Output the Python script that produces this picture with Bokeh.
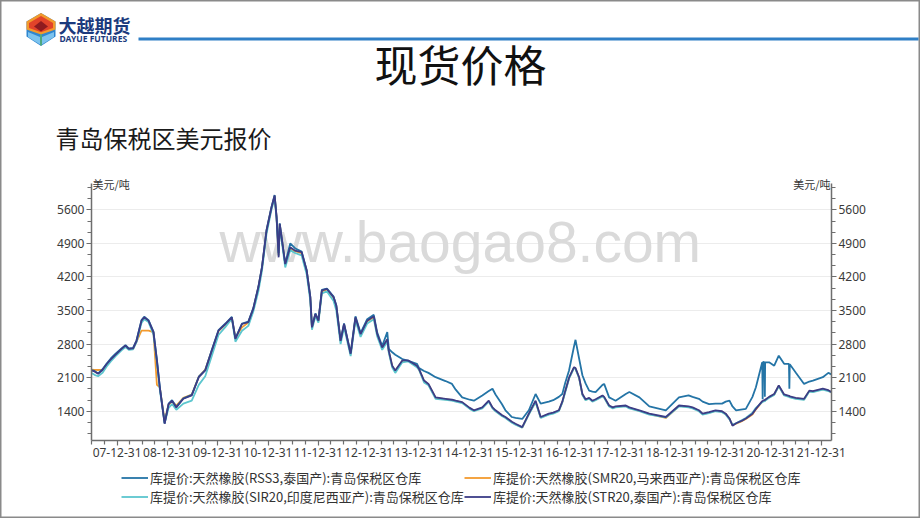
import numpy as np
import pandas as pd
from bokeh.plotting import figure
from bokeh.models import (Range1d, FixedTicker, DatetimeTickFormatter, LinearAxis,
                          Label, Legend, LegendItem, ColumnDataSource)
from bokeh.embed import file_html
from bokeh.resources import INLINE
from bokeh.core.properties import value

# ---------------- data ----------------
dates = [
    "2007-06-28", "2007-07-20", "2007-08-15", "2007-09-15", "2007-10-15", "2007-11-15", "2007-12-20",
    "2008-02-01", "2008-03-01", "2008-03-25", "2008-04-25", "2008-05-20", "2008-06-25", "2008-07-15",
    "2008-08-15", "2008-09-20", "2008-10-15", "2008-11-05", "2008-12-10",
    "2009-01-08", "2009-02-02", "2009-03-05", "2009-04-25", "2009-06-25", "2009-08-15", "2009-10-01", "2009-11-18",
    "2010-01-05", "2010-02-25", "2010-04-12", "2010-05-08", "2010-06-25", "2010-08-10", "2010-09-15",
    "2010-10-22", "2010-11-17", "2010-12-20",
    "2011-01-25", "2011-02-17", "2011-03-03", "2011-03-18", "2011-03-26", "2011-05-05", "2011-06-10",
    "2011-07-15", "2011-09-01", "2011-10-08", "2011-11-03", "2011-11-15", "2011-12-10",
    "2012-01-01", "2012-01-26", "2012-03-03", "2012-04-20", "2012-05-10", "2012-06-10", "2012-07-05",
    "2012-08-22", "2012-09-26", "2012-11-02", "2012-12-20",
    "2013-02-06", "2013-03-03", "2013-04-08", "2013-05-15", "2013-05-26", "2013-06-20", "2013-07-12",
    "2013-09-01", "2013-10-15", "2013-12-16",
    "2014-01-01", "2014-02-06", "2014-03-10", "2014-05-01", "2014-07-12", "2014-08-28", "2014-09-24", "2014-11-10",
    "2015-01-04", "2015-02-03", "2015-04-05", "2015-05-22", "2015-06-18", "2015-07-10", "2015-08-25",
    "2015-09-20", "2015-11-06", "2015-12-02",
    "2016-01-20", "2016-03-08", "2016-04-26", "2016-06-02", "2016-07-31", "2016-09-01", "2016-10-12",
    "2016-11-06", "2016-11-28", "2016-12-25",
    "2017-01-30", "2017-02-10", "2017-03-08", "2017-04-01", "2017-04-24", "2017-05-20", "2017-06-13",
    "2017-07-06", "2017-08-25", "2017-09-06", "2017-10-12", "2017-11-08", "2017-11-28",
    "2018-02-10", "2018-03-08", "2018-05-20", "2018-07-31", "2018-11-28",
    "2019-03-03", "2019-05-12", "2019-06-10", "2019-07-26", "2019-08-22", "2019-10-08", "2019-11-24",
    "2020-01-10", "2020-02-06", "2020-03-04", "2020-03-26", "2020-04-21", "2020-06-07", "2020-07-01",
    "2020-08-18", "2020-09-12", "2020-10-28", "2020-10-31", "2020-11-03", "2020-11-14", "2020-11-16",
    "2020-11-18", "2020-12-17",
    "2021-01-23", "2021-02-25", "2021-04-05", "2021-05-10", "2021-05-13", "2021-05-16", "2021-06-28",
    "2021-08-28", "2021-10-05", "2021-10-31",
    "2022-01-11", "2022-02-20", "2022-03-14",
]

rss3 = [
    2260, 2240, 2190, 2270, 2390, 2500, 2600,
    2710, 2780, 2710, 2720, 2880, 3300, 3370, 3300, 3060, 2470, 1910, 1150,
    1560, 1630, 1490, 1670, 1740, 2120, 2260, 2680,
    3090, 3230, 3370, 2920, 3230, 3270, 3550, 4000, 4410, 5180,
    5660, 5910, 5460, 4700, 5320, 4480, 4900, 4800, 4730, 4340, 3790, 3160, 3440,
    3300, 3930, 3960, 3790, 3610, 2880, 3230, 2610, 3380, 3030, 3320,
    3410, 3040, 2760, 3050, 2700, 2630, 2580, 2490, 2450, 2390,
    2300, 2240, 2200, 2110, 2030, 1970, 1850, 1690,
    1640, 1620, 1730, 1820, 1870, 1750, 1550, 1420, 1280, 1260,
    1240, 1420, 1760, 1560, 1600, 1630, 1700, 1760, 2000, 2250,
    2750, 2890, 2500, 2150, 1980, 1830, 1810, 1800, 1950, 1970, 1690, 1650, 1620,
    1760, 1800, 1690, 1500, 1420,
    1690, 1730, 1700, 1660, 1600, 1550, 1560,
    1560, 1600, 1620, 1500, 1420, 1440, 1450, 1700, 1900, 2420, 1650, 2430, 2420, 1700, 2420, 2420,
    2350, 2560, 2390, 2390, 1870, 2380, 2210, 1970, 2020, 2040,
    2110, 2200, 2170,
]

smr20 = [
    2270, 2265, 2260, 2270, 2360, 2470, 2570,
    2690, 2760, 2700, 2700, 2850, 3080, 3080, 3080, 3050, 1950, 1900, 1200,
    1540, 1600, 1520, 1680, 1750, 2120, 2270, 2660,
    3070, 3210, 3350, 2930, 3150, 3250, 3530, 3980, 4390, 5150,
    5640, 5880, 5440, 4650, 5300, 4460, 4800, 4740, 4700, 4320, 3770, 3140, 3420,
    3280, 3900, 3940, 3770, 3580, 2860, 3200, 2590, 3340, 3000, 3280,
    3360, 3000, 2720, 2890, 2650, 2340, 2240, 2450, 2450, 2340,
    2270, 2030, 1960, 1680, 1650, 1630, 1610, 1580,
    1460, 1410, 1470, 1610, 1470, 1410, 1310, 1270, 1170, 1130,
    1060, 1340, 1600, 1270, 1340, 1360, 1410, 1590, 1820, 2090,
    2310, 2290, 2100, 1750, 1640, 1670, 1610, 1640, 1720, 1690, 1510, 1470, 1490,
    1510, 1470, 1410, 1340, 1260,
    1510, 1490, 1470, 1410, 1340, 1370, 1410,
    1390, 1340, 1240, 1110, 1140, 1200, 1240, 1330, 1440, 1600, 1605, 1610, 1620, 1620, 1630, 1690,
    1750, 1930, 1740, 1710, 1710, 1700, 1670, 1650, 1820, 1810,
    1860, 1830, 1790,
]

sir20 = [
    2200, 2160, 2130, 2200, 2330, 2440, 2550,
    2670, 2740, 2680, 2690, 2840, 3240, 3320, 3260, 3000, 2420, 1850, 1150,
    1470, 1550, 1430, 1560, 1620, 1950, 2130, 2560,
    2990, 3160, 3330, 2850, 3080, 3180, 3480, 3900, 4330, 5100,
    5600, 5850, 5400, 4650, 5250, 4400, 4760, 4700, 4650, 4250, 3700, 3100, 3380,
    3250, 3860, 3900, 3700, 3500, 2800, 3150, 2550, 3300, 2950, 3230,
    3320, 2960, 2680, 2850, 2620, 2310, 2200, 2420, 2440, 2320,
    2260, 2000, 1940, 1660, 1640, 1620, 1600, 1570,
    1450, 1400, 1460, 1600, 1460, 1400, 1300, 1260, 1160, 1120,
    1060, 1330, 1590, 1260, 1330, 1350, 1400, 1580, 1800, 2080,
    2300, 2280, 2090, 1740, 1630, 1660, 1600, 1630, 1710, 1680, 1500, 1460, 1480,
    1500, 1460, 1400, 1330, 1270,
    1500, 1480, 1460, 1400, 1330, 1360, 1400,
    1380, 1330, 1230, 1120, 1150, 1220, 1260, 1370, 1470, 1590, 1595, 1600, 1610, 1610, 1620, 1680,
    1740, 1920, 1730, 1700, 1700, 1690, 1660, 1640, 1810, 1800,
    1850, 1820, 1800,
]

str20 = [
    2250, 2230, 2180, 2260, 2380, 2480, 2580,
    2700, 2770, 2700, 2710, 2870, 3290, 3360, 3290, 3050, 2460, 1900, 1140,
    1550, 1620, 1480, 1660, 1730, 2110, 2250, 2670,
    3080, 3220, 3360, 2910, 3220, 3260, 3540, 3990, 4400, 5170,
    5650, 5900, 5450, 4610, 5310, 4470, 4820, 4750, 4720, 4330, 3780, 3150, 3430,
    3290, 3920, 3950, 3780, 3600, 2870, 3220, 2600, 3360, 3010, 3290,
    3380, 3010, 2730, 2900, 2660, 2350, 2250, 2460, 2460, 2350,
    2280, 2040, 1970, 1690, 1660, 1640, 1620, 1590,
    1470, 1420, 1480, 1620, 1480, 1420, 1320, 1280, 1180, 1140,
    1070, 1350, 1620, 1280, 1350, 1370, 1420, 1600, 1830, 2100,
    2320, 2300, 2110, 1760, 1650, 1680, 1620, 1650, 1730, 1700, 1520, 1480, 1500,
    1520, 1480, 1420, 1350, 1280,
    1520, 1500, 1480, 1420, 1350, 1380, 1420,
    1400, 1350, 1250, 1100, 1150, 1210, 1250, 1350, 1450, 1610, 1615, 1620, 1630, 1630, 1640, 1700,
    1760, 1940, 1750, 1720, 1720, 1710, 1680, 1660, 1830, 1820,
    1870, 1840, 1800,
]

for s in (rss3, smr20, sir20, str20):
    assert len(s) == len(dates), (len(s), len(dates))

series_labels = [
    "库提价:天然橡胶(RSS3,泰国产):青岛保税区仓库",
    "库提价:天然橡胶(SMR20,马来西亚产):青岛保税区仓库",
    "库提价:天然橡胶(SIR20,印度尼西亚产):青岛保税区仓库",
    "库提价:天然橡胶(STR20,泰国产):青岛保税区仓库",
]
y_ticks = [1400, 2100, 2800, 3500, 4200, 4900, 5600]
x_tick_dates = [f"{y}-12-31" for y in range(2007, 2022)]
unit_label = "美元/吨"
page_title = "现货价格"
sub_title = "青岛保税区美元报价"
watermark = "www.baogao8.com"
brand_cn = "大越期货"
brand_en = "DAYUE FUTURES"

colors = {"rss3": "#2474a6", "smr20": "#f39a2e", "sir20": "#5cc6ce", "str20": "#3b3d87"}

# ---------------- layout constants (page pixels) ----------------
CJK = "Noto Sans CJK SC"
PAGE_W, PAGE_H = 920, 518
HEAD_H = 165
F_LEFT, F_RIGHT, F_TOP, F_BOTTOM = 91, 831, 170, 440
CHART_BOTTOM_BORDER = 26
AXIS_TOP = 183
FW, FH = F_RIGHT - F_LEFT, F_BOTTOM - F_TOP
Y_MIN, Y_AXIS_MAX = 790, 6150
per_px = (Y_AXIS_MAX - Y_MIN) / (F_BOTTOM - AXIS_TOP)
Y_MAX = Y_AXIS_MAX + (AXIS_TOP - F_TOP) * per_px
LEG_TOP = F_BOTTOM + CHART_BOTTOM_BORDER
LEG_H = PAGE_H - LEG_TOP
BORDER = "#8a8a8a"

x0 = pd.Timestamp("2007-06-28")
x1 = pd.Timestamp("2022-03-15")

# ---------------- header figure (page-pixel coordinates) ----------------
head = figure(width=PAGE_W, height=HEAD_H, x_range=Range1d(0, PAGE_W),
              y_range=Range1d(HEAD_H, 0), x_axis_type=None, y_axis_type=None,
              toolbar_location=None, output_backend="svg", min_border=0,
              outline_line_color=None)
head.grid.visible = False
head.border_fill_alpha = 0
head.background_fill_alpha = 0
head.styles = {"box-shadow": f"inset 1.5px 1.5px 0 {BORDER}, inset -1.5px 0 0 {BORDER}"}

logo_polys = [
    ([40.5, 26, 26, 40.5, 55, 55], [12.5, 21, 36, 45.5, 36, 21], "#2f86cf"),
    ([27.5, 39.5, 39.5, 27.5], [31.5, 36.5, 44, 36.5], "#7cc3ee"),
    ([53.5, 41.5, 41.5, 53.5], [31.5, 36.5, 44, 36.5], "#7cc3ee"),
    ([40.5, 26, 26, 40.5, 55, 55], [12.5, 21, 29, 34, 29, 21], "#f39a2c"),
    ([40.5, 28.5, 28.5, 40.5, 52.5, 52.5], [15.5, 22.5, 27.5, 31.8, 27.5, 22.5], "#e2432a"),
    ([40.5, 33.5, 40.5, 47.5], [20.5, 26, 31, 26], "#8e1b1f"),
    ([39.8, 41.2, 41.2, 39.8], [34, 34, 45, 45], "#5cb85c"),
]
head.patches(xs=[xs for xs, ys, c in logo_polys], ys=[ys for xs, ys, c in logo_polys],
             fill_color=[c for xs, ys, c in logo_polys], line_color=None)
head.quad(left=[138], right=[918], top=[37], bottom=[40], fill_color="#2f7fc6",
          line_color=None)

head.text(x=[58], y=[24], text=[brand_cn], text_font=value(CJK),
          text_font_style="bold", text_font_size="18px", text_color="#1b3a7d",
          text_baseline="middle", text_align="left")
head.text(x=[59], y=[38], text=[brand_en], text_font=value("Noto Sans"),
          text_font_style="bold", text_font_size="8.5px", text_color="#1b3a7d",
          text_baseline="middle", text_align="left")
head.text(x=[460], y=[62], text=[page_title], text_font=value(CJK),
          text_font_size="43px", text_color="#111111", text_baseline="middle",
          text_align="center")
head.text(x=[55], y=[137], text=[sub_title], text_font=value(CJK),
          text_font_size="24px", text_color="#1a1a1a", text_baseline="middle",
          text_align="left")

# ---------------- chart figure ----------------
p = figure(frame_width=FW, frame_height=FH, x_axis_type="datetime",
           x_range=Range1d(x0, x1), y_range=Range1d(Y_MIN, Y_MAX),
           toolbar_location=None, output_backend="svg",
           min_border_left=F_LEFT, min_border_right=PAGE_W - F_RIGHT,
           min_border_top=F_TOP - HEAD_H, min_border_bottom=CHART_BOTTOM_BORDER)
p.outline_line_color = None
p.background_fill_color = "white"
p.border_fill_alpha = 0
p.styles = {"box-shadow": f"inset 1.5px 0 0 {BORDER}, inset -1.5px 0 0 {BORDER}"}


def sx(X):
    return X - F_LEFT


def sy(Y):
    return F_BOTTOM - Y


src = ColumnDataSource(dict(date=pd.to_datetime(dates), rss3=rss3, smr20=smr20,
                            sir20=sir20, str20=str20))

p.add_layout(Label(x=sx(219), y=sy(241), x_units="screen", y_units="screen", text=watermark,
                   text_font="Liberation Sans", text_font_size="57px",
                   text_color="#dadada", text_baseline="alphabetic", level="underlay"))

for key in ["smr20", "sir20", "rss3", "str20"]:
    p.line("date", key, source=src, line_color=colors[key], line_width=1.8)

x_ticks_ms = [pd.Timestamp(d).value / 1e6 for d in x_tick_dates]
x_minor = [t.value / 1e6 for t in pd.date_range("2007-03-31", "2022-06-30", freq="QE")
           if not (t.month == 12)]
y_minor = [1400 + k * 700 / 3 for k in range(-3, 21) if k % 3 != 0]

yt = FixedTicker(ticks=y_ticks, minor_ticks=y_minor)
xt = FixedTicker(ticks=x_ticks_ms, minor_ticks=x_minor)

fmt = "%y-%m-%d"
p.xaxis[0].ticker = xt
p.xaxis[0].formatter = DatetimeTickFormatter(
    microseconds=fmt, milliseconds=fmt, seconds=fmt, minsec=fmt, minutes=fmt,
    hourmin=fmt, hours=fmt, days=fmt, months=fmt, years=fmt)
p.yaxis[0].ticker = yt
p.yaxis[0].bounds = (Y_MIN, Y_AXIS_MAX)
right_axis = LinearAxis(ticker=FixedTicker(ticks=y_ticks, minor_ticks=y_minor),
                        bounds=(Y_MIN, Y_AXIS_MAX))
p.add_layout(right_axis, "right")

for ax in [p.xaxis[0], p.yaxis[0], right_axis]:
    ax.axis_line_color = "#6e6e6e"
    ax.axis_line_width = 1.5
    ax.major_tick_line_color = "#6e6e6e"
    ax.minor_tick_line_color = "#6e6e6e"
    ax.major_tick_line_width = 1.2
    ax.minor_tick_line_width = 1.2
    ax.major_tick_out = 5
    ax.major_tick_in = 0
    ax.minor_tick_out = 4
    ax.minor_tick_in = 0
    ax.major_label_text_font = "Noto Sans"
    ax.major_label_text_font_size = "12px"
    ax.major_label_text_color = "#3a3a3a"
    ax.major_label_standoff = 2

p.xgrid.visible = False
p.ygrid.ticker = yt
p.ygrid.grid_line_color = "#ececec"
p.ygrid.grid_line_width = 1

p.add_layout(Label(x=1, y=sy(AXIS_TOP), x_units="screen", y_units="screen", text=unit_label,
                   text_font=CJK, text_font_size="11px", text_color="#333333",
                   text_baseline="middle", text_align="left"))
p.add_layout(Label(x=FW - 1, y=sy(AXIS_TOP), x_units="screen", y_units="screen",
                   text=unit_label, text_font=CJK, text_font_size="11px",
                   text_color="#333333", text_baseline="middle", text_align="right"))

# ---------------- legend strip (its own figure, below the chart) ----------------
leg = figure(width=PAGE_W, height=LEG_H, x_range=Range1d(x0, x1), y_range=Range1d(0, 1),
             x_axis_type=None, y_axis_type=None, toolbar_location=None,
             output_backend="svg", min_border_left=121, min_border_top=2,
             min_border_right=0, min_border_bottom=0, outline_line_color=None)
leg.grid.visible = False
leg.border_fill_alpha = 0
leg.background_fill_alpha = 0
leg.styles = {"box-shadow": f"inset 1.5px 0 0 {BORDER}, inset -1.5px 0 0 {BORDER}, "
                            f"inset 0 -1.5px 0 {BORDER}"}
# the same series drawn in this strip (out of its y view) so the legend can show them
leg_r = {key: leg.line("date", key, source=src, line_color=colors[key], line_width=1.8)
         for key in ["rss3", "smr20", "sir20", "str20"]}

legend = Legend(items=[LegendItem(label=series_labels[0], renderers=[leg_r["rss3"]]),
                       LegendItem(label=series_labels[1], renderers=[leg_r["smr20"]]),
                       LegendItem(label=series_labels[2], renderers=[leg_r["sir20"]]),
                       LegendItem(label=series_labels[3], renderers=[leg_r["str20"]])],
                orientation="horizontal", ncols=2, location="top_left",
                label_text_font=CJK, label_text_font_size="13px", label_text_color="#333333",
                glyph_width=27, glyph_height=13, label_height=13, label_standoff=2,
                spacing=0, padding=0, margin=0, border_line_color=None,
                background_fill_alpha=0)
leg.add_layout(legend, "center")

with open("out.html", "w") as f:
    f.write(file_html([head, p, leg], INLINE, title="现货价格"))
